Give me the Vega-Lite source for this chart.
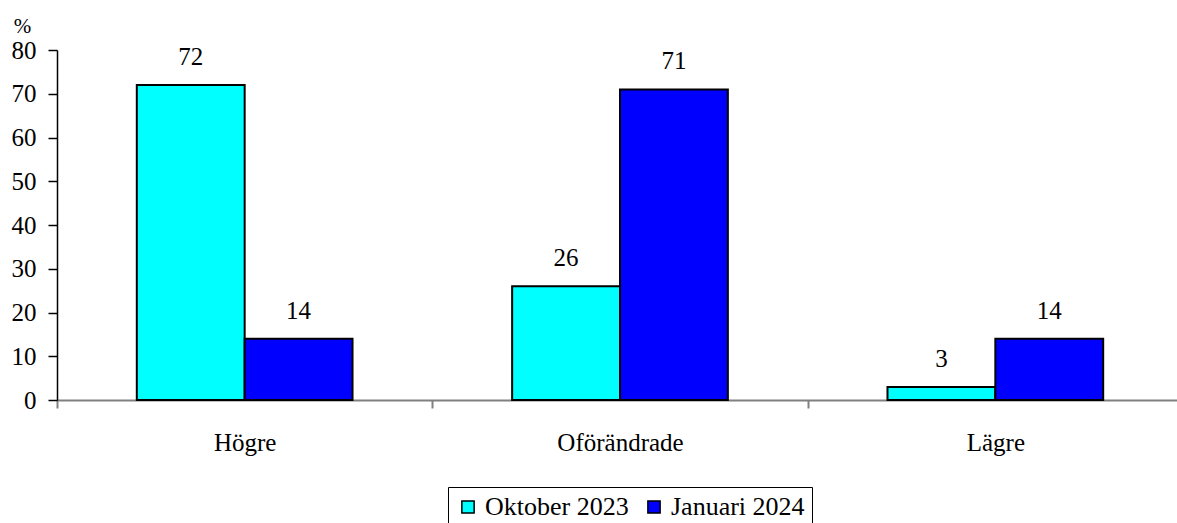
{
  "$schema": "https://vega.github.io/schema/vega-lite/v6.json",
  "autosize": {"type": "none"},
  "padding": {"left": 57, "top": 50, "right": 0, "bottom": 123},
  "width": 1120,
  "height": 350,
  "background": "white",
  "config": {
    "view": {"stroke": null},
    "font": "Times New Roman, Liberation Serif, serif",
    "text": {"font": "Times New Roman, Liberation Serif, serif"}
  },
  "data": {
    "values": [
      {"kategori": "Högre", "period": "Oktober 2023", "värde": 72},
      {"kategori": "Högre", "period": "Januari 2024", "värde": 14},
      {"kategori": "Oförändrade", "period": "Oktober 2023", "värde": 26},
      {"kategori": "Oförändrade", "period": "Januari 2024", "värde": 71},
      {"kategori": "Lägre", "period": "Oktober 2023", "värde": 3},
      {"kategori": "Lägre", "period": "Januari 2024", "värde": 14}
    ]
  },
  "encoding": {
    "x": {
      "field": "kategori",
      "type": "nominal",
      "sort": ["Högre", "Oförändrade", "Lägre"],
      "scale": {"range": [0, 1126], "paddingInner": 0, "paddingOuter": 0},
      "axis": {
        "title": null,
        "labelAngle": 0,
        "labelFont": "Times New Roman, Liberation Serif, serif",
        "labelFontSize": 25,
        "labelColor": "#000",
        "labelPadding": 22,
        "domainColor": "#808080",
        "domainWidth": 2,
        "tickColor": "#808080",
        "tickWidth": 2,
        "tickSize": 8,
        "tickBand": "extent",
        "grid": false
      }
    },
    "xOffset": {
      "field": "period",
      "type": "nominal",
      "sort": ["Oktober 2023", "Januari 2024"],
      "scale": {"paddingOuter": 0.74, "paddingInner": 0}
    },
    "y": {
      "field": "värde",
      "type": "quantitative",
      "scale": {"domain": [0, 80], "nice": false},
      "axis": {
        "title": "%",
        "titleAngle": 0,
        "titleFont": "Times New Roman, Liberation Serif, serif",
        "titleFontSize": 21,
        "titleFontWeight": "normal",
        "titleColor": "#000",
        "titleAlign": "center",
        "titleBaseline": "alphabetic",
        "titleX": -35,
        "titleY": -18,
        "values": [0, 10, 20, 30, 40, 50, 60, 70, 80],
        "labelFont": "Times New Roman, Liberation Serif, serif",
        "labelFontSize": 25,
        "labelColor": "#000",
        "labelPadding": 12,
        "tickSize": 9,
        "tickColor": "#000",
        "tickWidth": 1.5,
        "domainColor": "#000",
        "domainWidth": 1.5,
        "grid": false
      }
    }
  },
  "layer": [
    {
      "mark": {"type": "bar", "stroke": "#000", "strokeWidth": 2},
      "encoding": {
        "fill": {
          "field": "period",
          "type": "nominal",
          "sort": ["Oktober 2023", "Januari 2024"],
          "scale": {"domain": ["Oktober 2023", "Januari 2024"], "range": ["#00FFFF", "#0000FF"]},
          "legend": {
            "title": null,
            "orient": "none",
            "direction": "horizontal",
            "legendX": 391,
            "legendY": 437,
            "symbolType": "square",
            "symbolSize": 150,
            "symbolStrokeColor": "#000",
            "symbolStrokeWidth": 1.5,
            "labelFont": "Times New Roman, Liberation Serif, serif",
            "labelFontSize": 26,
            "labelColor": "#000",
            "labelOffset": 4,
            "columnPadding": 12,
            "padding": 7,
            "strokeColor": "#000",
            "fillColor": "white"
          }
        }
      }
    },
    {
      "mark": {"type": "text", "baseline": "alphabetic", "dy": -20, "fontSize": 25, "font": "Times New Roman, Liberation Serif, serif", "color": "#000"},
      "encoding": {
        "text": {"field": "värde", "type": "quantitative"}
      }
    }
  ]
}
